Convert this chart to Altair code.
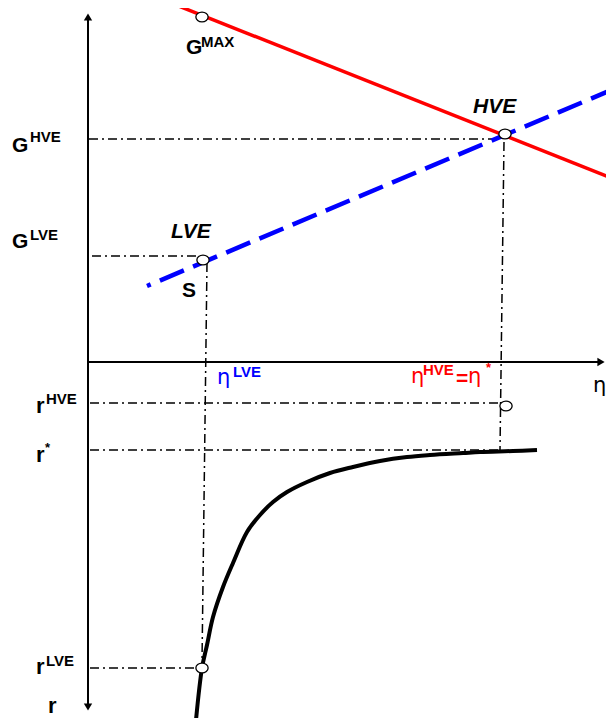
import altair as alt
import pandas as pd

# --- schematic data (picture coordinates, y grows downward) ---
red_x = [171, 609]
red_y = [3, 177]
blue_x = [147, 609]
blue_y = [286, 91]
curve_x = [196, 202, 207, 213, 223, 233, 247, 260, 273, 287, 307, 330, 353, 380, 407, 430, 463, 480, 513, 537]
curve_y = [720, 668, 645, 617, 587, 563, 532, 515, 502, 492, 482, 473, 467, 461, 457, 455, 453, 452, 451, 450]

# dash-dot guide segments: x1, y1, x2, y2
guide_x1 = [89, 92, 207, 504, 90, 90, 90]
guide_y1 = [139, 256, 263, 142, 403, 450, 668]
guide_x2 = [497, 198, 202, 500, 499, 500, 197]
guide_y2 = [139, 256, 662, 450, 403, 450, 668]

# axes
axis_x1 = [88, 88]
axis_y1 = [18, 362]
axis_x2 = [88, 602]
axis_y2 = [705, 362]
arrow_x = [88, 88, 601]
arrow_y = [17, 707, 362]
arrow_shape = ["triangle-up", "triangle-down", "triangle-right"]

# marked points
pt_x = [202, 505, 203, 506, 202]
pt_y = [17, 134, 260, 406, 668]

# labels (bold sans): text, x, baseline y, size, colour
lab_text = ["G", "MAX", "G", "HVE", "G", "LVE", "S",
            "r", "HVE", "r", "*", "r", "LVE", "r",
            "LVE", "HVE", "=", "*"]
lab_x = [186, 201, 12, 30, 12, 30, 182,
         36, 46, 36, 45, 36, 46, 48,
         233, 423, 456, 486]
lab_y = [54, 47, 152, 142, 248, 240, 297,
         413, 404, 462, 452, 674, 666, 713,
         377, 375, 385, 372]
lab_size = [21, 15, 21, 15, 21, 15, 21,
            22, 15, 22, 13, 22, 15, 22,
            15, 15, 21, 13]
lab_color = ["black"] * 14 + ["#0000ff", "#ff0000", "#ff0000", "#ff0000"]

# italic labels
it_text = ["LVE", "HVE"]
it_x = [171, 473]
it_y = [238, 113]

# eta glyphs
eta_text = ["η", "η", "η", "η"]
eta_x = [217, 411, 468, 593]
eta_y = [384, 383, 383, 392]
eta_color = ["#0000ff", "#ff0000", "#ff0000", "black"]

xs = alt.Scale(domain=[8, 606], nice=False, zero=False)
ys = alt.Scale(domain=[8, 718], nice=False, zero=False, reverse=True)
X = lambda f: alt.X(f, type="quantitative", scale=xs, axis=None)
Y = lambda f: alt.Y(f, type="quantitative", scale=ys, axis=None)

red = pd.DataFrame({"x": red_x, "y": red_y, "o": range(len(red_x))})
blue = pd.DataFrame({"x": blue_x, "y": blue_y, "o": range(len(blue_x))})
curve = pd.DataFrame({"x": curve_x, "y": curve_y, "o": range(len(curve_x))})
guides = pd.DataFrame({"x": guide_x1, "y": guide_y1, "x2": guide_x2, "y2": guide_y2})
axes = pd.DataFrame({"x": axis_x1, "y": axis_y1, "x2": axis_x2, "y2": axis_y2})
arrows = pd.DataFrame({"x": arrow_x, "y": arrow_y, "s": arrow_shape})
pts = pd.DataFrame({"x": pt_x, "y": pt_y})
labs = pd.DataFrame({"t": lab_text, "x": lab_x, "y": lab_y, "s": lab_size, "c": lab_color})
its = pd.DataFrame({"t": it_text, "x": it_x, "y": it_y})
etas = pd.DataFrame({"t": eta_text, "x": eta_x, "y": eta_y, "c": eta_color})

axis_layer = alt.Chart(axes).mark_rule(color="black", strokeWidth=2).encode(
    x=X("x"), y=Y("y"), x2="x2", y2="y2")
arrow_layer = alt.Chart(arrows).mark_point(filled=True, color="black", size=70, opacity=1).encode(
    x=X("x"), y=Y("y"), shape=alt.Shape("s:N", scale=None))
guide_layer = alt.Chart(guides).mark_rule(color="black", strokeWidth=1.5,
                                          strokeDash=[9, 4, 2, 4]).encode(
    x=X("x"), y=Y("y"), x2="x2", y2="y2")
red_layer = alt.Chart(red).mark_line(color="#ff0000", strokeWidth=3.5).encode(
    x=X("x"), y=Y("y"), order="o:Q")
blue_layer = alt.Chart(blue).mark_line(color="#0000ff", strokeWidth=4.5,
                                       strokeDash=[26, 10], strokeDashOffset=22).encode(
    x=X("x"), y=Y("y"), order="o:Q")
curve_layer = alt.Chart(curve).mark_line(color="black", strokeWidth=4,
                                         interpolate="catmull-rom").encode(
    x=X("x"), y=Y("y"), order="o:Q")
ellipse = "M -1 0 A 1 0.8 0 1 0 1 0 A 1 0.8 0 1 0 -1 0 Z"
pt_layer = alt.Chart(pts).mark_point(shape=ellipse, size=150, filled=True, fill="white",
                                     stroke="black", strokeWidth=1.3, opacity=1).encode(
    x=X("x"), y=Y("y"))
lab_layer = alt.Chart(labs).mark_text(font="Liberation Sans", fontWeight="bold",
                                      align="left", baseline="alphabetic").encode(
    x=X("x"), y=Y("y"), text="t:N", size=alt.Size("s:Q", scale=None),
    color=alt.Color("c:N", scale=None))
it_layer = alt.Chart(its).mark_text(font="Liberation Sans", fontWeight="bold", fontStyle="italic",
                                    fontSize=21, align="left", baseline="alphabetic",
                                    color="black").encode(
    x=X("x"), y=Y("y"), text="t:N")
eta_layer = alt.Chart(etas).mark_text(font="DejaVu Sans", fontSize=21, align="left",
                                      baseline="alphabetic").encode(
    x=X("x"), y=Y("y"), text="t:N", color=alt.Color("c:N", scale=None))

chart = alt.layer(axis_layer, guide_layer, red_layer, blue_layer, curve_layer,
                  arrow_layer, pt_layer, lab_layer, it_layer, eta_layer).properties(
    width=598, height=710, padding=0,
    autosize=alt.AutoSizeParams(type="none"),
).configure_view(stroke=None)

chart.save("out.html", embed_options={"renderer": "svg", "actions": False})
